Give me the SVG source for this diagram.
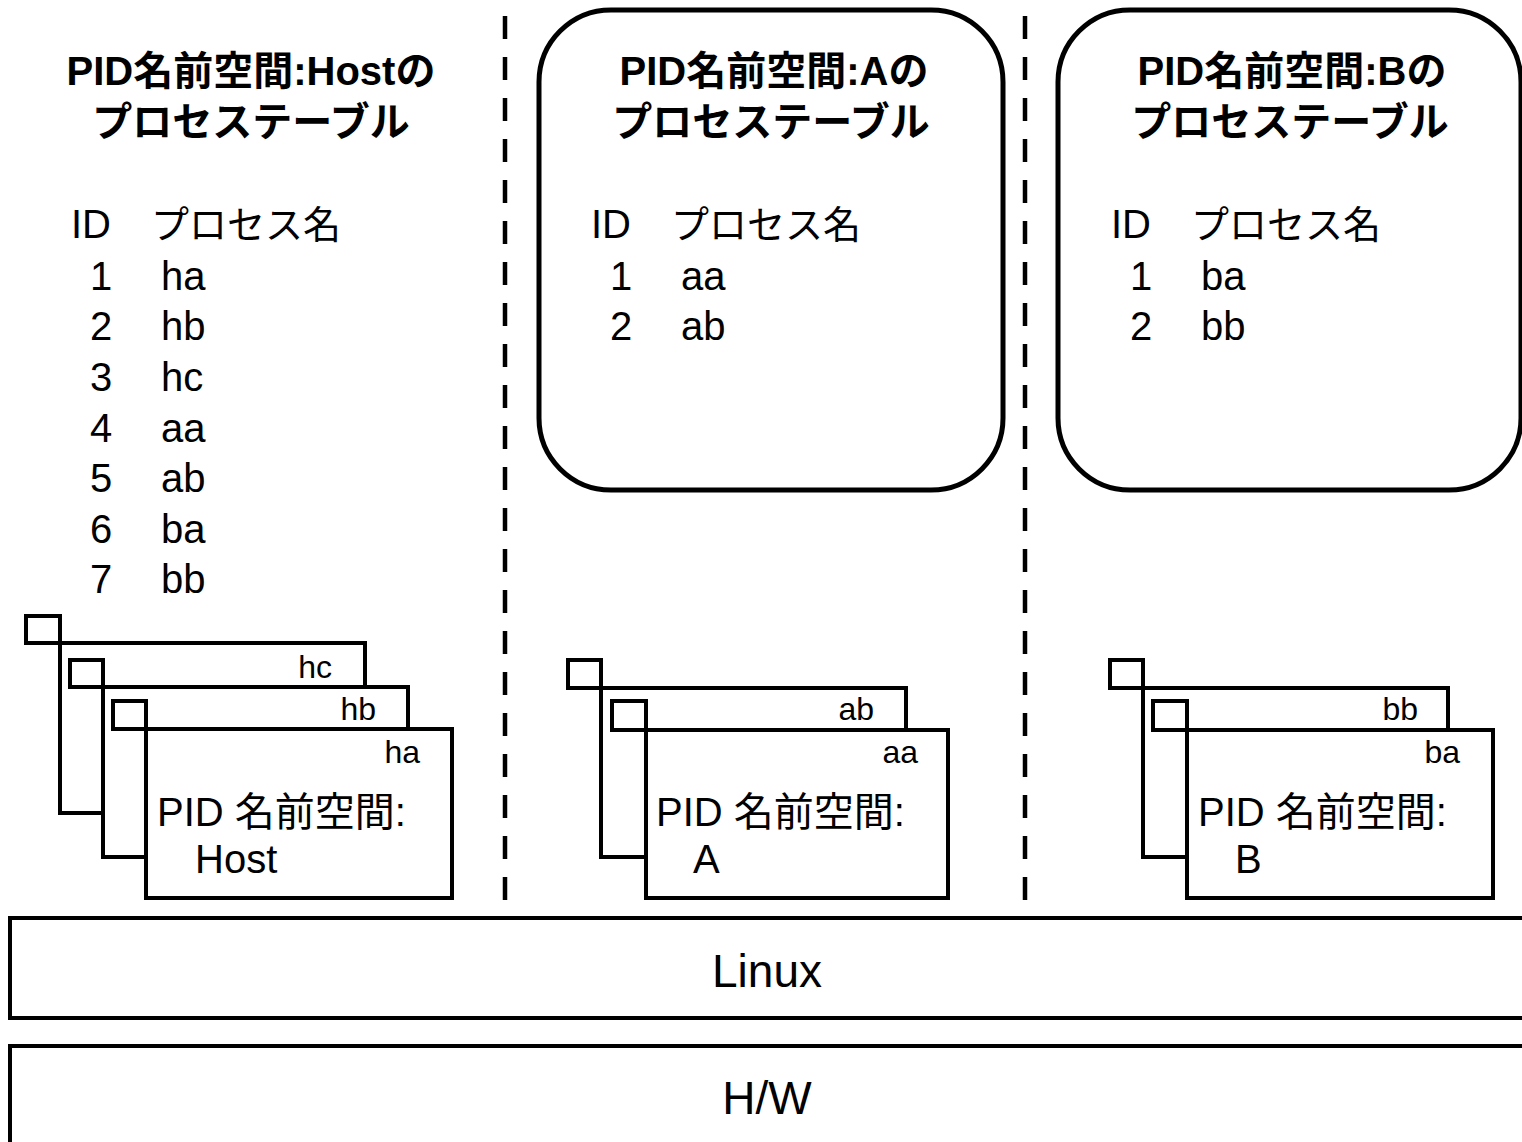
<svg xmlns="http://www.w3.org/2000/svg" width="1522" height="1142" viewBox="0 0 1522 1142">
<style>
  text { font-family: "Liberation Sans", "Noto Sans CJK JP", sans-serif; fill: #000; }
  .title { font-size: 40px; font-weight: bold; text-anchor: middle; }
  .row { font-size: 40px; }
  .jp { font-size: 38px; }
  .lbl { font-size: 32px; text-anchor: end; }
  .ns { font-size: 40px; }
  .big { font-size: 46px; text-anchor: middle; }
  .win { fill: #fff; stroke: #000; stroke-width: 4; }
  .rbox { fill: #fff; stroke: #000; stroke-width: 5; }
  .layer { fill: #fff; stroke: #000; stroke-width: 4; }
  .dash { stroke: #000; stroke-width: 4.5; stroke-dasharray: 23 18; fill: none; }
</style>
<rect width="1522" height="1142" fill="#fff"/>

<g id="separators">
  <line class="dash" x1="505" y1="16" x2="505" y2="914"/>
  <line class="dash" x1="1025" y1="16" x2="1025" y2="914"/>
</g>

<g id="table-a">
  <rect class="rbox" x="539" y="10" width="464" height="480" rx="72" ry="72"/>
</g>
<g id="table-b">
  <rect class="rbox" x="1058" y="10" width="463" height="480" rx="72" ry="72"/>
</g>

<g id="table-host-text">
  <text class="title" x="251" y="85">PID名前空間:Hostの</text>
  <text class="title" x="251" y="136">プロセステーブル</text>
  <text class="row" x="71" y="238">ID</text>
  <text class="jp" x="151" y="238">プロセス名</text>
  <text class="row" x="90" y="290">1</text><text class="row" x="161" y="290">ha</text>
  <text class="row" x="90" y="340">2</text><text class="row" x="161" y="340">hb</text>
  <text class="row" x="90" y="391">3</text><text class="row" x="161" y="391">hc</text>
  <text class="row" x="90" y="442">4</text><text class="row" x="161" y="442">aa</text>
  <text class="row" x="90" y="492">5</text><text class="row" x="161" y="492">ab</text>
  <text class="row" x="90" y="543">6</text><text class="row" x="161" y="543">ba</text>
  <text class="row" x="90" y="593">7</text><text class="row" x="161" y="593">bb</text>
</g>

<g id="table-a-text">
  <text class="title" x="774" y="85">PID名前空間:Aの</text>
  <text class="title" x="771" y="136">プロセステーブル</text>
  <text class="row" x="591" y="238">ID</text>
  <text class="jp" x="671" y="238">プロセス名</text>
  <text class="row" x="610" y="290">1</text><text class="row" x="681" y="290">aa</text>
  <text class="row" x="610" y="340">2</text><text class="row" x="681" y="340">ab</text>
</g>

<g id="table-b-text">
  <text class="title" x="1292" y="85">PID名前空間:Bの</text>
  <text class="title" x="1290" y="136">プロセステーブル</text>
  <text class="row" x="1111" y="238">ID</text>
  <text class="jp" x="1191" y="238">プロセス名</text>
  <text class="row" x="1130" y="290">1</text><text class="row" x="1201" y="290">ba</text>
  <text class="row" x="1130" y="340">2</text><text class="row" x="1201" y="340">bb</text>
</g>

<g id="host-proc-hc">
  <rect class="win" x="60" y="643" width="305" height="170"/>
  <rect class="win" x="26" y="616" width="34" height="27"/>
  <text class="lbl" x="332" y="678">hc</text>
</g>
<g id="host-proc-hb">
  <rect class="win" x="103" y="687" width="305" height="170"/>
  <rect class="win" x="70" y="660" width="33" height="27"/>
  <text class="lbl" x="376" y="720">hb</text>
</g>
<g id="host-proc-ha">
  <rect class="win" x="146" y="729" width="306" height="169"/>
  <rect class="win" x="113" y="701" width="33" height="28"/>
  <text class="lbl" x="420" y="763">ha</text>
  <text class="ns" x="157" y="826">PID 名前空間:</text>
  <text class="ns" x="195" y="873">Host</text>
</g>

<g id="a-proc-ab">
  <rect class="win" x="601" y="688" width="305" height="169"/>
  <rect class="win" x="568" y="660" width="33" height="28"/>
  <text class="lbl" x="874" y="720">ab</text>
</g>
<g id="a-proc-aa">
  <rect class="win" x="646" y="730" width="302" height="168"/>
  <rect class="win" x="612" y="701" width="34" height="29"/>
  <text class="lbl" x="918" y="763">aa</text>
  <text class="ns" x="656" y="826">PID 名前空間:</text>
  <text class="ns" x="693" y="873">A</text>
</g>

<g id="b-proc-bb">
  <rect class="win" x="1143" y="688" width="305" height="169"/>
  <rect class="win" x="1110" y="660" width="33" height="28"/>
  <text class="lbl" x="1418" y="720">bb</text>
</g>
<g id="b-proc-ba">
  <rect class="win" x="1187" y="730" width="306" height="168"/>
  <rect class="win" x="1153" y="701" width="34" height="29"/>
  <text class="lbl" x="1460" y="763">ba</text>
  <text class="ns" x="1198" y="826">PID 名前空間:</text>
  <text class="ns" x="1235" y="873">B</text>
</g>

<g id="linux">
  <rect class="layer" x="10" y="918" width="1530" height="100"/>
  <text class="big" x="767" y="987">Linux</text>
</g>
<g id="hw">
  <rect class="layer" x="10" y="1046" width="1530" height="120"/>
  <text class="big" x="767" y="1114">H/W</text>
</g>
</svg>
